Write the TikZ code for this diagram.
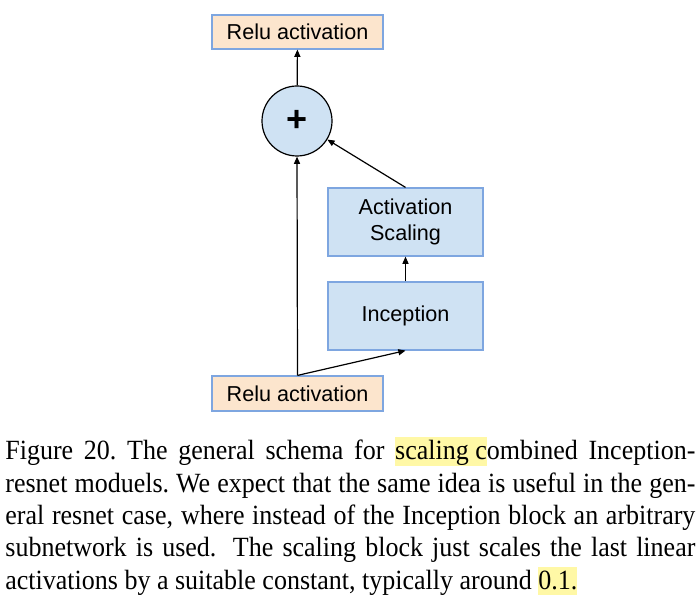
\documentclass[tikz,border=0pt]{standalone}
\usepackage{fontspec}
\usepackage{graphicx}
\setmainfont{Liberation Serif}
\newfontfamily\diagfont{Liberation Sans}
\usetikzlibrary{arrows.meta}
\definecolor{peach}{HTML}{FCE5CD}
\definecolor{lightblue}{HTML}{CFE2F3}
\definecolor{edgeblue}{HTML}{7EA6E0}
\definecolor{hlyellow}{HTML}{FFF8A6}
\newcommand{\myhl}[1]{{\setlength{\fboxsep}{0pt}\colorbox{hlyellow}{\rule[-2.6pt]{0pt}{13pt}#1}}}
\newcommand{\capstretch}[1]{\scalebox{1}[1.07]{#1}}
\tikzset{
  relubox/.style={draw=edgeblue, fill=peach, line width=0.6pt, minimum width=85.5pt, minimum height=17pt, inner sep=0pt, font=\diagfont\fontsize{10.8}{13}\selectfont},
  blockbox/.style={draw=edgeblue, fill=lightblue, line width=0.6pt, minimum width=77.5pt, minimum height=34pt, inner sep=0pt, align=center, font=\diagfont\fontsize{10.8}{13}\selectfont},
  sumnode/.style={circle, draw=black, fill=lightblue, line width=0.6pt, minimum size=35pt, inner sep=0pt, font=\diagfont\bfseries\fontsize{18}{20}\selectfont},
  conn/.style={line width=0.6pt, -{Triangle[length=3.6pt,width=3pt]}},
  capline/.style={anchor=base west, inner sep=0pt, font=\fontsize{13}{16}\selectfont}
}
\begin{document}
\begin{tikzpicture}[x=0.5pt, y=-0.5pt]
\useasboundingbox (0,0) rectangle (700,598);
\node[relubox] (top) at (297.5,32) {Relu activation};
\node[sumnode] (sum) at (297,121) {+};
\node[blockbox] (scale) at (405.5,222) {Activation\\Scaling};
\node[blockbox] (incep) at (405.5,316) {Inception};
\node[relubox, minimum height=17.5pt] (bot) at (297.5,393.5) {Relu activation};
\draw[conn] (sum) -- (top);
\draw[conn] (bot.north) -- (sum.south);
\draw[conn] (bot.north) -- (incep.south);
\draw[conn] (incep) -- (scale);
\draw[conn] (scale.north) -- (sum);
\node[capline] (cap1) at (5,459.5) {\capstretch{\makebox[345pt][s]{Figure 20.\ The general schema for \myhl{scaling c}ombined Inception-}}};
\node[capline] (cap2) at (5,492) {\capstretch{\makebox[345pt][s]{resnet moduels.\ We expect that the same idea is useful in the gen-}}};
\node[capline] (cap3) at (5,524.3) {\capstretch{\makebox[345pt][s]{eral resnet case, where instead of the Inception block an arbitrary}}};
\node[capline] (cap4) at (5,556.6) {\capstretch{\makebox[345pt][s]{subnetwork is used. The scaling block just scales the last linear}}};
\node[capline] (cap5) at (5,589) {\capstretch{activations by a suitable constant, typically around \myhl{0.1.}}};
\end{tikzpicture}
\end{document}
